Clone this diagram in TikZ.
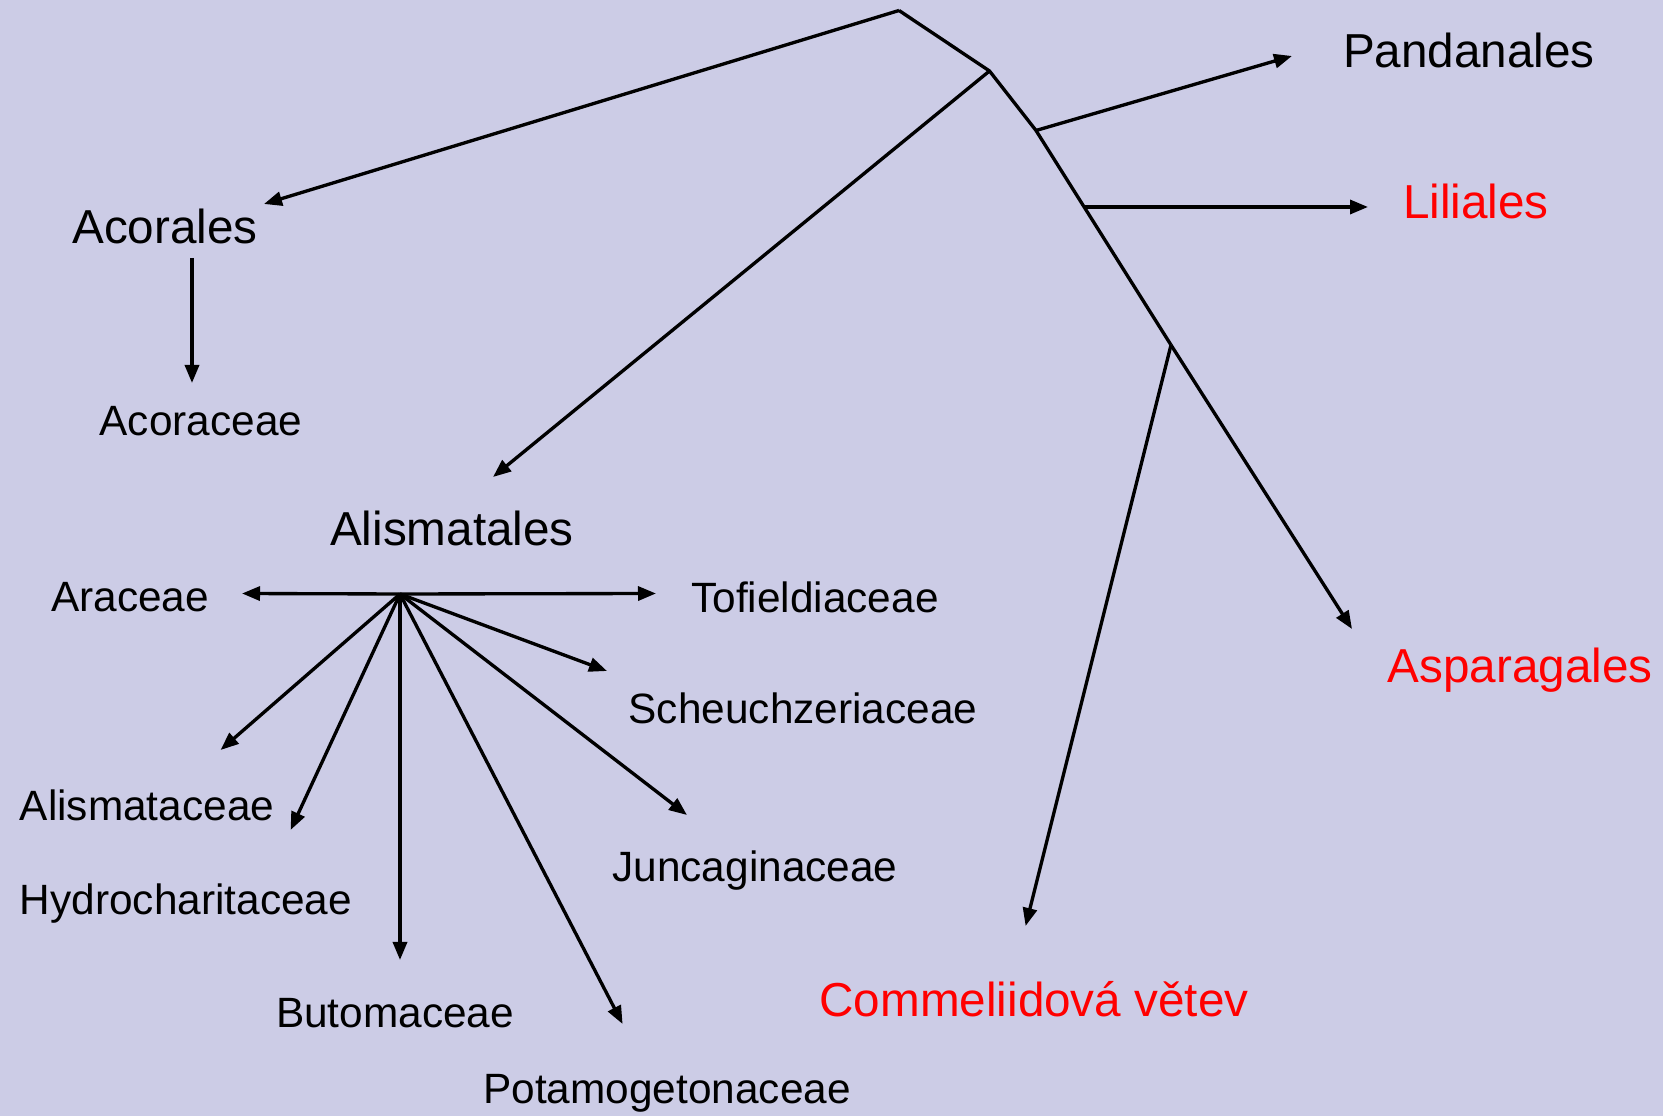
\documentclass[tikz,border=0pt]{standalone}
\usepackage{fontspec}
\setmainfont{Liberation Sans}
\usetikzlibrary{arrows.meta}
\definecolor{bg}{RGB}{204,204,230}
\begin{document}
\begin{tikzpicture}[x=0.01cm,y=-0.01cm,
  ln/.style={line width=0.95pt,black},
  arr/.style={ln,-{Triangle[length=0.18cm,width=0.14cm]}},
  big/.style={font=\fontsize{13.55pt}{15pt}\selectfont,inner sep=0pt},
  small/.style={font=\fontsize{12.05pt}{14pt}\selectfont,inner sep=0pt},
  redt/.style={text=red}]
\fill[bg] (0,0) rectangle (1663,1116);
\useasboundingbox (0,0) rectangle (1663,1116);
% labels
\node[big] (pan) at (1469,50) {Pandanales};
\node[big,redt] (lil) at (1476,201) {Liliales};
\node[big] (aco) at (165,226) {Acorales};
\node[small] (acc) at (201,421) {Acoraceae};
\node[big] (ali) at (452,528) {Alismatales};
\node[small] (ara) at (130,597) {Araceae};
\node[small] (tof) at (815,597) {Tofieldiaceae};
\node[small] (sch) at (803,708.5) {Scheuchzeriaceae};
\node[small] (alc) at (147,805) {Alismataceae};
\node[small] (hyd) at (186,904) {Hydrocharitaceae};
\node[small] (jun) at (755,871) {Juncaginaceae};
\node[small] (but) at (395,1013) {Butomaceae};
\node[small] (pot) at (667,1093) {Potamogetonaceae};
\node[big,redt] (asp) at (1520,670) {Asparagales};
\node[big,redt] (com) at (1034,999) {Commeliidová větev};
% tree junctions
\coordinate (top) at (899,10.5);
\coordinate (j2) at (989.5,71);
\coordinate (j3) at (1036,130.5);
\coordinate (jl) at (1084,207);
\coordinate (j5) at (1171,345);
\coordinate (hub) at (400,594);
\coordinate (acoS) at (192,258);
% arrow ends
\coordinate (eAco) at (264,204);
\coordinate (eAli) at (493,477);
\coordinate (ePan) at (1292,56);
\coordinate (eLil) at (1368,207);
\coordinate (eAsp) at (1352,629);
\coordinate (eCom) at (1025.6,926);
\coordinate (eAcc) at (192,383);
\coordinate (eAra) at (242,593.5);
\coordinate (eTof) at (656,593.5);
\coordinate (eSch) at (607,671);
\coordinate (eJun) at (687,815);
\coordinate (ePot) at (622.6,1024);
\coordinate (eBut) at (400,960);
\coordinate (eHyd) at (290.6,830);
\coordinate (eAlc) at (220.6,750);
% tree
\draw[ln,line join=miter] (top) -- (j2) -- (j3) -- (j5);
\draw[arr] (top) -- (eAco);
\draw[arr] (j2) -- (eAli);
\draw[arr] (j3) -- (ePan);
\draw[arr] (jl) -- (eLil);
\draw[arr] (j5) -- (eAsp);
\draw[arr] (j5) -- (eCom);
\draw[arr] (acoS) -- (eAcc);
% Alismatales fan
\draw[arr] (hub) -- (eAra);
\draw[arr] (hub) -- (eTof);
\draw[arr] (hub) -- (eSch);
\draw[arr] (hub) -- (eJun);
\draw[arr] (hub) -- (ePot);
\draw[arr] (hub) -- (eBut);
\draw[arr] (hub) -- (eHyd);
\draw[arr] (hub) -- (eAlc);
\end{tikzpicture}
\end{document}
